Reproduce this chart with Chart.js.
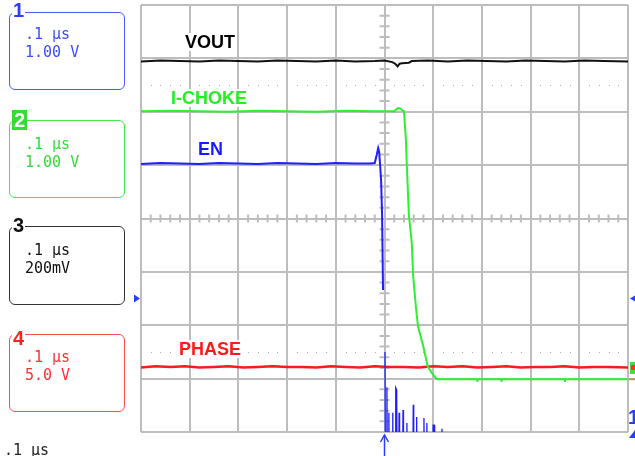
<!DOCTYPE html>
<html>
<head>
<meta charset="utf-8">
<script src="https://cdn.jsdelivr.net/npm/chart.js@4.4.0/dist/chart.umd.min.js"></script>
<style>
  body { margin: 0; background: #fff; }
  #wrap { position: relative; width: 635px; height: 456px; overflow: hidden; }
  #scope { position: absolute; left: 0; top: 0; }
  .box { position: absolute; left: 9px; width: 116px; height: 78px; box-sizing: border-box;
         border: 1.5px solid; border-radius: 6px; }
  .num { position: absolute; left: 12px; font: bold 20px "Liberation Sans", Arial, sans-serif;
         line-height: 20px; background: #fff; padding: 0 1px; }
  .txt { position: absolute; left: 25px; font: 15px "DejaVu Sans Mono", monospace;
         line-height: 18px; white-space: pre; }
  .lbl { position: absolute; font: bold 18px "Liberation Sans", Arial, sans-serif;
         line-height: 18px; background: #fff; padding: 0 1px; }
</style>
</head>
<body>
<div id="wrap">
  <canvas id="scope" width="635" height="456"></canvas>

  <!-- channel boxes on the left -->
  <div class="box" style="top:12px;border-color:#4a5aff"></div>
  <div class="num" style="top:0px;color:#2a3cff">1</div>
  <div class="txt" style="top:25px;color:#3a4cff">.1 μs
1.00 V</div>

  <div class="box" style="top:120px;border-color:#44e844"></div>
  <div class="num" style="top:110px;color:#fff;background:#33dd33;padding:0 2px">2</div>
  <div class="txt" style="top:135px;color:#33dd33">.1 μs
1.00 V</div>

  <div class="box" style="top:226px;height:79px;border-color:#333"></div>
  <div class="num" style="top:215px;color:#111">3</div>
  <div class="txt" style="top:241px;color:#111">.1 μs
200mV</div>

  <div class="box" style="top:334px;border-color:#ff4a4a"></div>
  <div class="num" style="top:328px;color:#ff2020">4</div>
  <div class="txt" style="top:348px;color:#ff3030">.1 μs
5.0 V</div>

  <div class="txt" style="top:441px;left:4px;color:#222">.1 μs</div>
  <div class="num" style="top:407px;left:627px;color:#2a3cff;background:none">1</div>

  <!-- trace names -->
  <div class="lbl" style="left:184px;top:33px;color:#000">VOUT</div>
  <div class="lbl" style="left:170px;top:89px;color:#22ee22">I-CHOKE</div>
  <div class="lbl" style="left:197px;top:140px;color:#1a1aff">EN</div>
  <div class="lbl" style="left:178px;top:340px;color:#ff1a1a">PHASE</div>
</div>

<script>
// time in microseconds (0 = trigger), amplitude in screen divisions
const voutTime = [-0.5,-0.46,-0.42,-0.38,-0.34,-0.3,-0.26,-0.22,-0.18,-0.14,-0.1,-0.06,-0.02,
                  0.0,0.016,0.022,0.027,0.031,0.036,0.05,0.056,
                  0.09,0.13,0.17,0.21,0.25,0.29,0.33,0.37,0.41,0.45,0.5];
const voutDiv  = [2.94,2.96,2.95,2.94,2.96,2.95,2.94,2.96,2.95,2.94,2.96,2.94,2.95,
                  2.96,2.93,2.90,2.85,2.90,2.91,2.92,2.95,
                  2.96,2.94,2.96,2.95,2.94,2.96,2.95,2.94,2.96,2.95,2.94];

const chokeTime = [-0.5,-0.44,-0.38,-0.32,-0.26,-0.2,-0.14,-0.08,-0.02,
                   0.02,0.026,0.029,0.033,0.037,0.040,
                   0.044,0.046,0.048,0.050,0.056,0.059,0.065,0.069,0.079,0.089,0.100,0.108,
                   0.19,0.1905,0.191,0.24,0.2405,0.241,0.37,0.3705,0.371,0.5];
const chokeDiv  = [2.01,2.02,2.01,2.00,2.02,2.01,2.00,2.02,2.01,
                   2.01,2.06,2.07,2.06,2.02,2.01,
                   1.47,0.96,0.53,0.07,-0.46,-1.10,-1.71,-2.03,-2.37,-2.78,-2.93,-3.01,
                   -3.01,-3.06,-3.01,-3.01,-3.06,-3.01,-3.01,-3.06,-3.01,-3.01];

const enTime = [-0.5,-0.46,-0.42,-0.38,-0.34,-0.3,-0.26,-0.22,-0.18,-0.14,-0.1,-0.06,-0.03,-0.02,
                -0.016,-0.013,-0.011,-0.009,-0.007,-0.005,-0.003,
                -0.001,
                0.001,0.002,
                0.004,0.005,0.006,
                0.008,0.009,0.010,
                0.016,0.017,0.018,
                0.022,0.023,0.025,0.026,
                0.029,0.030,0.031,
                0.037,0.038,0.039,
                0.045,0.046,0.047,
                0.058,0.059,0.060,
                0.065,0.066,0.067,
                0.080,0.081,0.082,
                0.086,0.087,0.088,
                0.098,0.100,0.102,0.103,
                0.116,0.118,0.119,
                0.5];
const enDiv  = [1.02,1.04,1.03,1.02,1.04,1.03,1.02,1.04,1.03,1.02,1.04,1.03,1.03,1.04,
                1.19,1.32,1.25,1.00,0.72,0.07,-1.34,
                null,
                -2.50,-5,
                -5,-3.16,-5,
                -5,-3.64,-5,
                -5,-3.64,-5,
                -5,-3.17,-3.21,-5,
                -5,-3.64,-5,
                -5,-3.59,-5,
                -5,-3.83,-5,
                -5,-3.49,-5,
                -5,-3.72,-5,
                -5,-3.74,-5,
                -5,-3.83,-5,
                -5,-3.87,-3.87,-5,
                -5,-3.94,-5,
                -5];

const phaseTime = [-0.5,-0.47,-0.44,-0.41,-0.38,-0.35,-0.32,-0.29,-0.26,-0.23,
                   -0.2,-0.17,-0.14,-0.11,-0.08,-0.05,-0.02,0.01,0.04,0.07,
                   0.1,0.13,0.16,0.19,0.22,0.25,0.28,0.31,0.34,0.37,
                   0.4,0.43,0.46,0.5];
const phaseDiv  = [-2.79,-2.77,-2.78,-2.77,-2.79,-2.78,-2.77,-2.79,-2.78,-2.77,
                   -2.78,-2.78,-2.79,-2.77,-2.78,-2.79,-2.77,-2.78,-2.78,-2.79,
                   -2.77,-2.78,-2.77,-2.79,-2.78,-2.77,-2.79,-2.78,-2.78,-2.77,
                   -2.79,-2.78,-2.78,-2.79];

const GRID = '#bdbdbd';
const BLUE = '#2a3cff';

function toPoints(times, vals) {
    return times.map((t, i) => ({ x: t, y: vals[i] }));
}

function trace(label, times, vals, color, width) {
    return {
        label: label,
        data: toPoints(times, vals),
        borderColor: color,
        borderWidth: width,
        pointRadius: 0,
        tension: 0,
        spanGaps: false
    };
}

// centre-axis minor ticks, dotted reference lines and edge markers
const scopeDecor = {
    id: 'scopeDecor',
    beforeDatasetsDraw(chart) {
        const { ctx, scales: { x, y } } = chart;
        const x0 = x.getPixelForValue(0);
        const y0 = y.getPixelForValue(0);
        ctx.save();
        ctx.strokeStyle = GRID;
        ctx.lineWidth = 2;
        ctx.beginPath();
        for (let k = -20; k <= 20; k++) {
            if (k % 5 === 0) continue;
            const yy = y.getPixelForValue(k / 5);
            ctx.moveTo(x0 - 5, yy); ctx.lineTo(x0 + 5, yy);
        }
        for (let k = -25; k <= 25; k++) {
            if (k % 5 === 0) continue;
            const xx = x.getPixelForValue(k * 0.02);
            ctx.moveTo(xx, y0 - 4); ctx.lineTo(xx, y0 + 4);
        }
        ctx.stroke();

        ctx.fillStyle = '#aaaaaa';
        [2.5, -2.5].forEach(level => {
            const yy = Math.round(y.getPixelForValue(level));
            for (let k = -25; k <= 25; k++) {
                if (k % 5 === 0) continue;
                const xx = Math.round(x.getPixelForValue(k * 0.02));
                ctx.fillRect(xx, yy, 1, 1);
            }
        });
        ctx.restore();
    },
    afterDraw(chart) {
        const { ctx, chartArea: ca, scales: { x, y } } = chart;
        const x0 = x.getPixelForValue(0);
        const yMark = y.getPixelForValue(-1.5);
        ctx.save();
        ctx.fillStyle = BLUE;
        ctx.strokeStyle = BLUE;

        // channel 1 reference arrows, both sides
        ctx.beginPath();
        ctx.moveTo(ca.left - 7, yMark - 4);
        ctx.lineTo(ca.left - 1, yMark);
        ctx.lineTo(ca.left - 7, yMark + 4);
        ctx.fill();
        ctx.beginPath();
        ctx.moveTo(ca.right + 7, yMark - 3);
        ctx.lineTo(ca.right + 2, yMark);
        ctx.lineTo(ca.right + 7, yMark + 3);
        ctx.fill();

        // trigger position arrow
        ctx.lineWidth = 1.5;
        ctx.beginPath();
        ctx.moveTo(x0, ca.bottom + 3);
        ctx.lineTo(x0, 456);
        ctx.stroke();
        ctx.beginPath();
        ctx.moveTo(x0 - 4, ca.bottom + 10);
        ctx.lineTo(x0, ca.bottom + 3);
        ctx.lineTo(x0 + 4, ca.bottom + 10);
        ctx.stroke();

        // channel 1 off-screen marker, bottom right
        ctx.beginPath();
        ctx.moveTo(ca.right + 1, ca.bottom + 6);
        ctx.lineTo(ca.right + 7, ca.bottom - 2);
        ctx.lineTo(ca.right + 7, ca.bottom + 6);
        ctx.fill();

        // channel 2/4 markers, right edge
        const yPh = y.getPixelForValue(-2.8);
        ctx.fillStyle = '#44dd44';
        ctx.fillRect(ca.right + 2, yPh - 6, 5, 12);
        ctx.fillStyle = '#ff3030';
        ctx.fillRect(ca.right + 3, yPh - 3, 4, 5);
        ctx.fillStyle = '#a89a50';
        ctx.fillRect(ca.right + 1, y.getPixelForValue(-3.01) - 1, 6, 2);
        ctx.restore();
    }
};

const enTrace = trace('EN', enTime, enDiv, '#2020ff', 2);
// the ringing after the edge is drawn thinner on the scope
enTrace.segment = { borderWidth: c => (c.p0.parsed.x > 0 ? 1.3 : undefined) };

new Chart(document.getElementById('scope'), {
    type: 'line',
    data: {
        datasets: [
            enTrace,
            trace('I-CHOKE', chokeTime, chokeDiv, '#2ef02e', 2),
            trace('VOUT', voutTime, voutDiv, '#111111', 2),
            trace('PHASE', phaseTime, phaseDiv, '#ff1a1a', 2.5)
        ]
    },
    options: {
        responsive: false,
        animation: false,
        events: [],
        layout: { padding: { left: 141, right: 7, top: 5, bottom: 24 } },
        plugins: {
            legend: { display: false },
            tooltip: { enabled: false }
        },
        scales: {
            x: {
                type: 'linear',
                min: -0.5,
                max: 0.5,
                ticks: { display: false, stepSize: 0.1 },
                grid: { color: GRID, lineWidth: 2, drawTicks: false },
                border: { display: false }
            },
            y: {
                type: 'linear',
                min: -4,
                max: 4,
                ticks: { display: false, stepSize: 1 },
                grid: { color: GRID, lineWidth: 2, drawTicks: false },
                border: { display: false }
            }
        }
    },
    plugins: [scopeDecor]
});
</script>
</body>
</html>
